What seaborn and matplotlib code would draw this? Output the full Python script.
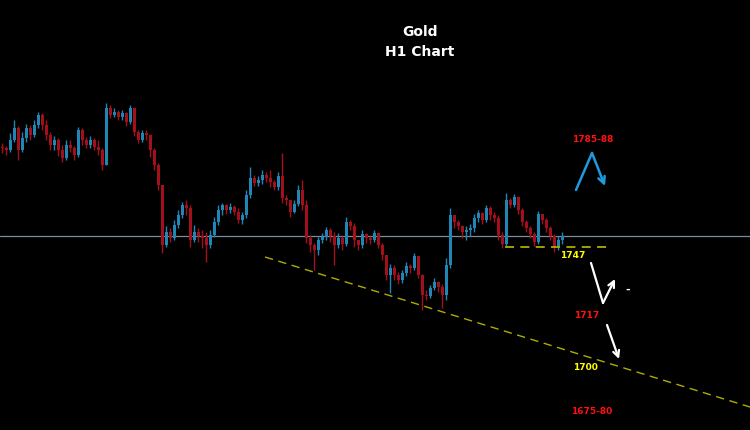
# -*- coding: utf-8 -*-
"""Gold H1 candlestick chart with hand-drawn style levels."""

import matplotlib
matplotlib.use("Agg")
import matplotlib.pyplot as plt
import numpy as np
import seaborn as sns

# H1 candles (price units)
first_open = 1797.0
closes = [
    1796.5, 1795.5, 1800.5, 1806.5, 1795.5, 1801.5, 1806.5, 1803, 1808, 1813,
    1808, 1803, 1798, 1800.5, 1795.5, 1791.5, 1798, 1796.5, 1793, 1805.5,
    1800.5, 1798, 1800.5, 1797, 1795.5, 1788, 1816.5, 1813, 1814.5, 1812,
    1814, 1809.5, 1816.5, 1804.5, 1800.5, 1804, 1803, 1795.5, 1788, 1778,
    1748, 1754.5, 1751.5, 1758, 1763, 1768, 1766.5, 1750.5, 1754.5, 1752.5,
    1751.5, 1748, 1753, 1759.5, 1765.5, 1768, 1765.5, 1767, 1764.5, 1760.5,
    1763, 1773, 1781.5, 1779, 1780.5, 1783, 1781.5, 1779.5, 1777, 1782.5,
    1771.5, 1770.5, 1764.5, 1768.5, 1775.5, 1768, 1751.5, 1748, 1745.5, 1750.5,
    1752, 1755.5, 1752.5, 1748, 1751.5, 1748.5, 1759.5, 1757.5, 1750.5, 1748,
    1753.5, 1751.5, 1750.5, 1754, 1748, 1743, 1733, 1736.5, 1733, 1730.5,
    1734, 1737.5, 1736.5, 1742.5, 1733, 1723, 1722.5, 1726.5, 1729.5, 1727,
    1723, 1738, 1763, 1759.5, 1757.5, 1754.5, 1755.5, 1756.5, 1761.5, 1764,
    1760.5, 1766.5, 1763, 1761.5, 1753, 1748.5, 1770.5, 1768, 1772, 1765.5,
    1759.5, 1756.5, 1753.5, 1749.5, 1763.5, 1760.5, 1756.5, 1752.5, 1747.5, 1750.5,
    1752.5,
]
highs = [
    1799, 1797.5, 1804, 1810.5, 1807.5, 1804.5, 1808.5, 1808, 1810.5, 1814.5,
    1814, 1810.5, 1804.5, 1802.5, 1801.5, 1798, 1800.5, 1800.5, 1797.5, 1807,
    1806.5, 1802, 1802.5, 1801.5, 1800.5, 1796.5, 1819, 1818, 1816.5, 1815.5,
    1815.5, 1814.5, 1818, 1817, 1805.5, 1805.5, 1805.5, 1803.5, 1796.5, 1789,
    1778, 1757.5, 1756.5, 1760.5, 1765.5, 1769.5, 1770.5, 1768, 1758, 1756.5,
    1755.5, 1754.5, 1755.5, 1762, 1768, 1769, 1768.5, 1769, 1768, 1766.5,
    1764.5, 1775.5, 1787, 1783, 1782.5, 1785.5, 1784.5, 1785.5, 1780.5, 1784.5,
    1794, 1773, 1770.5, 1770.5, 1778, 1780.5, 1770.5, 1753, 1749, 1752,
    1754, 1757, 1756.5, 1754.5, 1754, 1752.5, 1762, 1760.5, 1759, 1750.5,
    1755.5, 1754, 1752.5, 1755.5, 1754.5, 1749, 1743, 1738.5, 1738, 1734.5,
    1735.5, 1739.5, 1738.5, 1744, 1741.5, 1733.5, 1725.5, 1728, 1731.5, 1730,
    1728.5, 1741.5, 1766.5, 1762.5, 1760.5, 1758, 1757.5, 1758.5, 1763.5, 1765.5,
    1764.5, 1768, 1767.5, 1764.5, 1763, 1754.5, 1774, 1771.5, 1773.5, 1772.5,
    1766.5, 1760.5, 1757.5, 1754.5, 1765, 1763.5, 1761.5, 1757.5, 1753.5, 1752.5,
    1754.5,
]
lows = [
    1794, 1793, 1794.5, 1799.5, 1790.5, 1794.5, 1799.5, 1800.5, 1802, 1806.5,
    1805.5, 1800.5, 1795.5, 1795.5, 1792.5, 1789.5, 1790.5, 1794.5, 1790.5, 1792,
    1798, 1796.5, 1796.5, 1795.5, 1793, 1785.5, 1788, 1811.5, 1812, 1810.5,
    1810.5, 1807.5, 1808.5, 1802.5, 1799, 1799.5, 1800.5, 1792, 1785.5, 1775.5,
    1744, 1747, 1749.5, 1750.5, 1756.5, 1761.5, 1763, 1747, 1749.5, 1749.5,
    1746.5, 1739.5, 1746.5, 1752, 1758, 1763, 1763.5, 1764, 1763, 1759,
    1758.5, 1761.5, 1771.5, 1777.5, 1777.5, 1778.5, 1779.5, 1777, 1775.5, 1775.5,
    1769, 1768, 1762, 1764, 1767.5, 1765.5, 1749, 1744.5, 1735.5, 1743,
    1749, 1750.5, 1749.5, 1738, 1746.5, 1745.5, 1747.5, 1755.5, 1747, 1745.5,
    1746.5, 1749, 1748.5, 1749.5, 1746.5, 1740.5, 1730.5, 1724, 1730.5, 1728.5,
    1729, 1732.5, 1734, 1735.5, 1731.5, 1715.5, 1720.5, 1721.5, 1725.5, 1724.5,
    1716.5, 1720.5, 1736.5, 1756.5, 1755.5, 1751.5, 1750.5, 1752.5, 1754.5, 1759.5,
    1758.5, 1759.5, 1760.5, 1759.5, 1750.5, 1746.5, 1747.5, 1766.5, 1767, 1763.5,
    1757.5, 1754.5, 1751.5, 1747.5, 1748.5, 1758.5, 1754.5, 1750.5, 1744.5, 1745.5,
    1748.5,
]

current_price = 1752.5
support_level = 1747
title_lines = ["Gold", "H1 Chart"]
level_labels = ["1785-88", "1747", "1717", "1700", "1675-80"]

BULL = "#1f86b5"
BEAR = "#a3101c"
YELLOW = "#b0ac00"

sns.set_theme(style="dark", rc={
    "axes.facecolor": "black",
    "figure.facecolor": "black",
})
plt.rcParams["font.family"] = ["DejaVu Sans"]

fig = plt.figure(figsize=(7.5, 4.3), dpi=100)
ax = fig.add_axes([0, 0, 1, 1])
ax.set_facecolor("black")

closes_a = np.asarray(closes)
opens_a = np.concatenate([[first_open], closes_a[:-1]])
highs_a = np.maximum(np.asarray(highs), np.maximum(opens_a, closes_a))
lows_a = np.minimum(np.asarray(lows), np.minimum(opens_a, closes_a))
idx = np.arange(len(closes_a))
colors = np.where(closes_a >= opens_a, BULL, BEAR)

# wicks and bodies
ax.vlines(idx, lows_a, highs_a, colors=colors, linewidth=1.0)
body_h = np.abs(closes_a - opens_a)
body_h = np.where(body_h < 0.5, 0.5, body_h)
ax.bar(idx, body_h, bottom=np.minimum(opens_a, closes_a), width=0.75,
       color=colors, linewidth=0)

# current price line
ax.axhline(current_price, color="#7d8c9c", linewidth=0.9, zorder=0)

# support / trend lines
ax.hlines(support_level, 125.75, 152, colors=YELLOW, linewidth=1.3,
          linestyles=(0, (5, 3.5)))
ax.plot([65.75, 187], [1742, 1667], color=YELLOW, linewidth=1.0,
        linestyle=(0, (6, 4)))

# title
ax.text(104.5, 1854.5, title_lines[0], color="white", fontsize=10,
        fontweight="bold", ha="center", va="center")
ax.text(104.5, 1844.5, title_lines[1], color="white", fontsize=10,
        fontweight="bold", ha="center", va="center")

# level labels
label_pos = [(147.75, 1801), (142.75, 1742.5), (146.25, 1713),
             (145.75, 1687), (147.5, 1664.5)]
label_cols = ["#ff1010", "#ffff00", "#ff1010", "#ffff00", "#ff1010"]
for txt, (lx, ly), c in zip(level_labels, label_pos, label_cols):
    ax.text(lx, ly, txt, color=c, fontsize=6.5, fontweight="bold",
            ha="center", va="center")
ax.text(156.5, 1725.5, "-", color="white", fontsize=8, fontweight="bold",
        ha="center", va="center")

# projected path arrows
ax.plot([143.5, 147.5], [1775.5, 1794], color="#1e9be0", linewidth=1.8,
        solid_capstyle="round")
ax.annotate("", xy=(150.75, 1777.5), xytext=(147.5, 1794),
            arrowprops=dict(arrowstyle="->", color="#1e9be0", lw=1.8,
                            mutation_scale=12, shrinkA=0, shrinkB=0))
ax.plot([147.25, 150.25], [1739, 1719], color="white", linewidth=1.6,
        solid_capstyle="round")
ax.annotate("", xy=(153.25, 1731), xytext=(150.25, 1719),
            arrowprops=dict(arrowstyle="->", color="white", lw=1.6,
                            mutation_scale=11, shrinkA=0, shrinkB=0))
ax.annotate("", xy=(154.25, 1691), xytext=(151.25, 1708),
            arrowprops=dict(arrowstyle="->", color="white", lw=1.6,
                            mutation_scale=11, shrinkA=0, shrinkB=0))

ax.set_xlim(-0.5, 187)
ax.set_ylim(1655.5, 1870.5)
ax.axis("off")

fig.savefig("out.png", dpi=100, facecolor="black")
